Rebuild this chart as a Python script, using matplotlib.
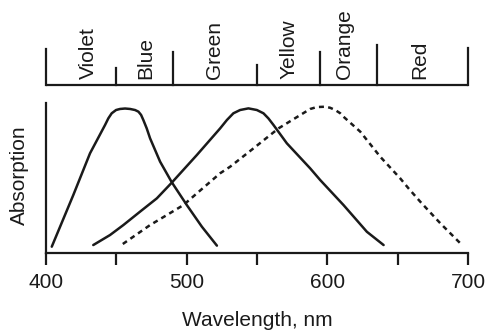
import matplotlib
matplotlib.use("Agg")
import matplotlib.pyplot as plt

plt.rcParams['font.family'] = ['Liberation Sans', 'DejaVu Sans']

# Colour bands (nm boundaries) and names
band_edges = [400, 450, 490, 550, 595, 635, 700]
band_names = ["Violet", "Blue", "Green", "Yellow", "Orange", "Red"]
band_label_wl = [430, 471, 519.5, 573, 612, 665.5]
band_tick_heights = [36, 17, 33, 20, 33, 40, 37]

# Absorption curves (relative)
s_wl = [404.1, 419.4, 431.3, 442.0, 444.3, 446.7, 449.8, 452.6, 456.2, 459.8,
        463.3, 465.7, 467.6, 469.2, 471.6, 474.0, 481.1, 489.4, 500.1, 510.8, 521.5]
s_abs = [0.039, 0.385, 0.665, 0.855, 0.899, 0.933, 0.955, 0.962, 0.965, 0.962,
         0.955, 0.944, 0.922, 0.888, 0.832, 0.765, 0.609, 0.471, 0.318, 0.173, 0.046]

m_wl = [433.6, 445.5, 455.0, 466.9, 478.8, 489.4, 507.2, 523.8, 528.6, 533.2, 538.0,
        543.9, 549.9, 554.6, 558.1, 561.7, 571.2, 587.8, 594.9, 611.5, 628.1, 640.0]
m_abs = [0.050, 0.117, 0.184, 0.274, 0.363, 0.468, 0.653, 0.832, 0.888, 0.933, 0.955,
         0.966, 0.955, 0.933, 0.899, 0.855, 0.732, 0.564, 0.486, 0.318, 0.139, 0.050]

l_wl = [454.6, 462.1, 474.0, 485.9, 497.7, 507.2, 523.8, 530.9, 547.5, 565.3, 587.8,
        592.6, 598.5, 602.0, 605.6, 609.2, 611.5, 623.4, 637.6, 651.8, 657.7,
        666.1, 680.3, 694.5]
l_abs = [0.057, 0.106, 0.184, 0.251, 0.318, 0.396, 0.531, 0.575, 0.698, 0.832, 0.962,
         0.975, 0.977, 0.970, 0.955, 0.933, 0.910, 0.810, 0.642, 0.497, 0.430,
         0.340, 0.196, 0.062]

x_ticks = [400, 450, 500, 550, 600, 650, 700]
x_ticklabels = ["400", "", "500", "", "600", "", "700"]

W, H = 492, 334
fig = plt.figure(figsize=(W / 100, H / 100), dpi=100)

lx0, lx1 = 46, 468
ax = fig.add_axes([lx0 / W, (H - 252.5) / H, (lx1 - lx0) / W, (252.5 - 103.3) / H])
ax.set_xlim(400, 700)
ax.set_ylim(0, 1)

lw = 1.8
col = "#1a1a1a"
fs = 15
ax.plot(s_wl, s_abs, color=col, lw=lw, solid_capstyle='round', solid_joinstyle='round')
ax.plot(m_wl, m_abs, color=col, lw=lw, solid_capstyle='round', solid_joinstyle='round')
ax.plot(l_wl, l_abs, color=col, lw=lw, linestyle=(0, (2.0, 1.7)))

for s in ["top", "right"]:
    ax.spines[s].set_visible(False)
for s in ["left", "bottom"]:
    ax.spines[s].set_linewidth(1.6)
    ax.spines[s].set_color(col)
ax.set_yticks([])
ax.set_xticks(x_ticks)
ax.set_xticklabels(x_ticklabels)
ax.tick_params(axis='x', direction='out', length=8.5, width=1.6, color=col,
               labelsize=fs, pad=6, labelcolor=col)
ax.set_xlabel("Wavelength, nm", fontsize=fs, color=col)
ax.xaxis.set_label_coords(0.5, -0.39)
ax.set_ylabel("Absorption", fontsize=fs, color=col)
ax.yaxis.set_label_coords(-0.040, 0.52)

# Colour band strip on top
bx = fig.add_axes([lx0 / W, (H - 100) / H, (lx1 - lx0) / W, 100 / H])
bx.set_xlim(400, 700)
bx.set_ylim(0, 100)
bx.axis("off")
base = 15
bx.plot([band_edges[0], band_edges[-1]], [base, base], color=col, lw=1.6,
        solid_capstyle='butt', clip_on=False)
for e, h in zip(band_edges, band_tick_heights):
    bx.plot([e, e], [base, base + h], color=col, lw=1.6, clip_on=False)
for xw, name in zip(band_label_wl, band_names):
    bx.text(xw, base + 6, name, rotation=90, ha='center', va='bottom',
            fontsize=fs, color=col)

fig.savefig("out.png", dpi=100)
